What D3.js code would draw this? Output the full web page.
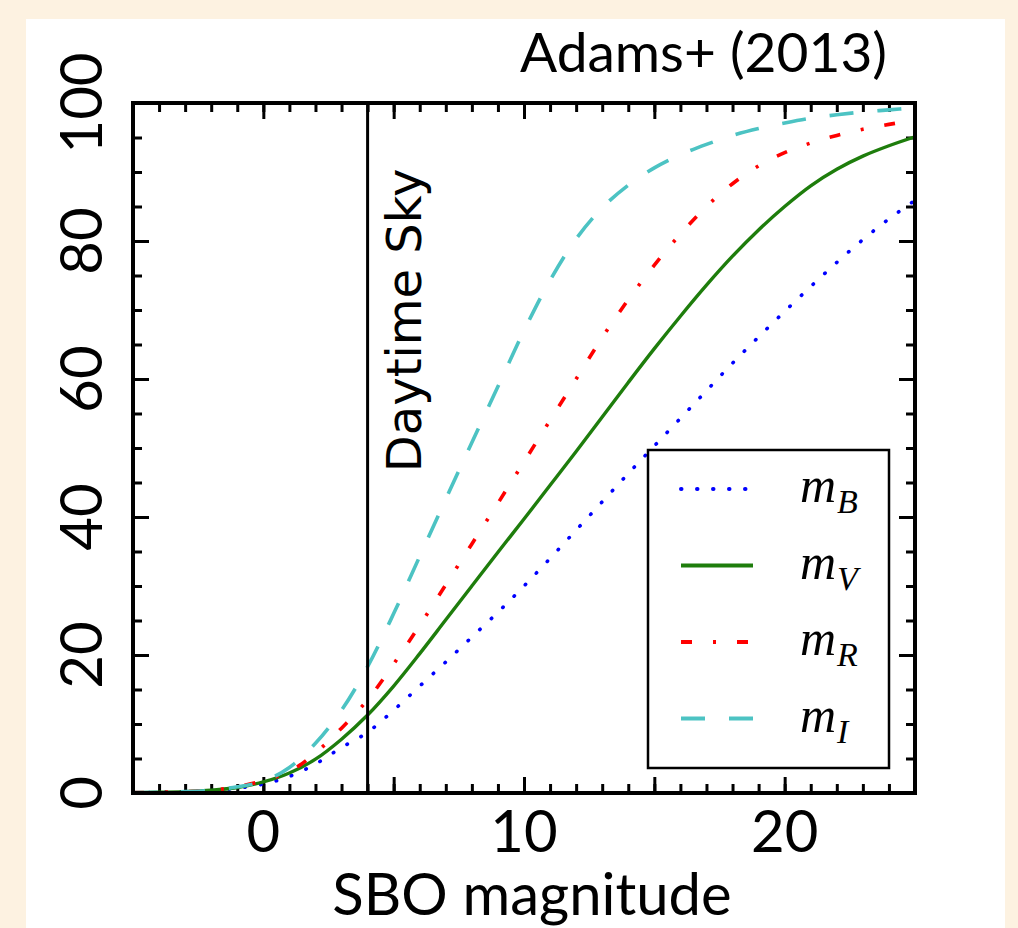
<!DOCTYPE html>
<html>
<head>
<meta charset="utf-8">
<script src="https://cdn.jsdelivr.net/npm/d3@7"></script>
<style>
  html, body { margin: 0; padding: 0; background: #fdf2e1; }
  svg { display: block; }
</style>
</head>
<body>
<div id="chart"></div>
<script>
// SBO magnitude vs. detection fraction, Adams+ (2013)
const W = 1018, H = 928;
const M = { top: 103, right: 103, bottom: 135, left: 133 };

const magnitudes = [-5, -4, -3, -2, -1, 0, 1, 2, 3, 4, 5, 6, 7, 8, 9, 10, 11, 12, 13, 14, 15, 16, 17, 18, 19, 20, 21, 22, 23, 24, 25];
const mB = [0.05, 0.1, 0.2, 0.35, 0.7, 1.3, 2.4, 4.2, 6.6, 8.8, 12, 15.5, 19, 22.6, 26.2, 30, 34, 38.1, 42.2, 46.3, 50.3, 54.3, 58.3, 62.3, 66.1, 69.8, 73.4, 76.9, 80.2, 83.2, 85.9];
const mV = [0.05, 0.1, 0.2, 0.4, 0.8, 1.6, 2.9, 4.9, 7.8, 11.3, 15.5, 20.2, 25.1, 30, 34.9, 39.7, 44.6, 49.5, 54.5, 59.5, 64.4, 69.1, 73.6, 77.8, 81.6, 85, 88, 90.4, 92.3, 93.8, 95.1];
const mR = [0.05, 0.1, 0.2, 0.4, 0.9, 1.8, 3.1, 5.8, 9.4, 13.5, 18.7, 24.3, 30.2, 36.1, 42, 48, 54, 60, 66, 71.5, 76.5, 81, 85, 88.3, 90.9, 92.8, 94.2, 95.3, 96.2, 96.9, 97.5];
const mI = [0.05, 0.1, 0.2, 0.4, 0.9, 1.7, 3.7, 7.2, 12, 18.3, 26, 34.3, 42.6, 50.8, 58.9, 67, 74.3, 80.3, 84.8, 88.1, 90.6, 92.5, 94, 95.3, 96.3, 97.1, 97.8, 98.3, 98.7, 99, 99.3];

const xTickLabels = [0, 10, 20];
const yTickLabels = [0, 20, 40, 60, 80, 100];
const daytimeSky = 4;

const series = [
  { name: 'B', values: mB, color: '#0000ff', dash: '0.5,15.5', cap: 'round', width: 3.6 },
  { name: 'V', values: mV, color: '#1e7d0c', dash: null, cap: 'butt', width: 3.4 },
  { name: 'R', values: mR, color: '#ff0000', dash: '11,21,3,21', cap: 'butt', width: 3.6 },
  { name: 'I', values: mI, color: '#4cc3c3', dash: '24,24', cap: 'butt', width: 3.6 }
];

const svg = d3.select('#chart').append('svg').attr('width', W).attr('height', H);
svg.append('rect').attr('width', W).attr('height', H).attr('fill', '#fdf2e1');
svg.append('rect').attr('x', 26).attr('y', 19).attr('width', 979).attr('height', H - 19).attr('fill', '#fff');

const iw = W - M.left - M.right, ih = H - M.top - M.bottom;
const g = svg.append('g').attr('transform', `translate(${M.left},${M.top})`);

const x = d3.scaleLinear().domain([-5, 25]).range([0, iw]);
const y = d3.scaleLinear().domain([0, 100]).range([ih, 0]);

g.append('clipPath').attr('id', 'clip').append('rect').attr('width', iw).attr('height', ih);

// inward ticks on all four sides
function ticks(axisGen, transform, major, minor) {
  const a = g.append('g').attr('transform', transform);
  a.call(axisGen.tickValues(minor).tickSize(-9).tickFormat(''));
  const b = g.append('g').attr('transform', transform);
  b.call(axisGen.tickValues(major).tickSize(-16).tickFormat(''));
  [a, b].forEach(s => {
    s.select('.domain').remove();
    s.selectAll('line').attr('stroke', '#000').attr('stroke-width', 3);
  });
}
const xMinor = d3.range(-5, 26, 1), xMajor = d3.range(-5, 26, 5);
const yMinor = d3.range(0, 101, 5), yMajor = d3.range(0, 101, 20);
ticks(d3.axisBottom(x), `translate(0,${ih})`, xMajor, xMinor);
ticks(d3.axisTop(x), 'translate(0,0)', xMajor, xMinor);
ticks(d3.axisLeft(y), 'translate(0,0)', yMajor, yMinor);
ticks(d3.axisRight(y), `translate(${iw},0)`, yMajor, yMinor);

// curves
const line = d3.line().x((d, i) => x(magnitudes[i])).y(d => y(d)).curve(d3.curveCatmullRom.alpha(0.5));
const plot = g.append('g').attr('clip-path', 'url(#clip)');
series.forEach(s => {
  plot.append('path').datum(s.values)
    .attr('d', line)
    .attr('fill', 'none')
    .attr('stroke', s.color)
    .attr('stroke-width', s.width)
    .attr('stroke-linecap', s.cap)
    .attr('stroke-dasharray', s.dash);
});

// daytime sky marker
g.append('line')
  .attr('x1', x(daytimeSky)).attr('x2', x(daytimeSky))
  .attr('y1', 0).attr('y2', ih)
  .attr('stroke', '#000').attr('stroke-width', 3);
g.append('text')
  .attr('transform', `translate(${x(daytimeSky) + 53},${y(46.5)}) rotate(-90)`)
  .attr('font-family', 'DejaVu Sans')
  .attr('font-size', 48)
  .text('Daytime Sky');

// frame
g.append('rect').attr('width', iw).attr('height', ih)
  .attr('fill', 'none').attr('stroke', '#000').attr('stroke-width', 4);

// tick labels
g.selectAll('text.xl').data(xTickLabels).enter().append('text')
  .attr('class', 'xl')
  .attr('x', d => x(d)).attr('y', ih + 59)
  .attr('text-anchor', 'middle')
  .attr('font-family', 'Lato').attr('font-size', 58)
  .text(d => d);
g.selectAll('text.yl').data(yTickLabels).enter().append('text')
  .attr('class', 'yl')
  .attr('transform', d => `translate(-31,${y(d)}) rotate(-90)`)
  .attr('text-anchor', 'middle')
  .attr('font-family', 'Lato').attr('font-size', 58)
  .text(d => d);

// axis label + title
g.append('text')
  .attr('x', iw / 2 + 8).attr('y', ih + 122)
  .attr('text-anchor', 'middle')
  .attr('font-family', 'Lato').attr('font-size', 58)
  .text('SBO magnitude');
svg.append('text')
  .attr('x', 520).attr('y', 72)
  .attr('font-family', 'Lato').attr('font-size', 54)
  .attr('textLength', 367).attr('lengthAdjust', 'spacingAndGlyphs')
  .text('Adams+ (2013)');

// legend
const lg = svg.append('g').attr('transform', 'translate(648,450)');
lg.append('rect').attr('width', 241).attr('height', 318)
  .attr('fill', '#fff').attr('stroke', '#000').attr('stroke-width', 2.5);
series.forEach((s, i) => {
  const ly = 39 + i * 76.5;
  lg.append('line')
    .attr('x1', 33).attr('x2', 105).attr('y1', ly).attr('y2', ly)
    .attr('stroke', s.color).attr('stroke-width', s.width + 0.4)
    .attr('stroke-linecap', s.cap)
    .attr('stroke-dasharray', s.dash);
  const t = lg.append('text')
    .attr('x', 152).attr('y', ly + 13)
    .attr('font-family', 'Liberation Serif').attr('font-style', 'italic')
    .attr('font-size', 50);
  t.append('tspan').text('m');
  t.append('tspan').attr('dy', 11).attr('dx', 1).attr('font-size', 34).text(s.name);
});
</script>
</body>
</html>
